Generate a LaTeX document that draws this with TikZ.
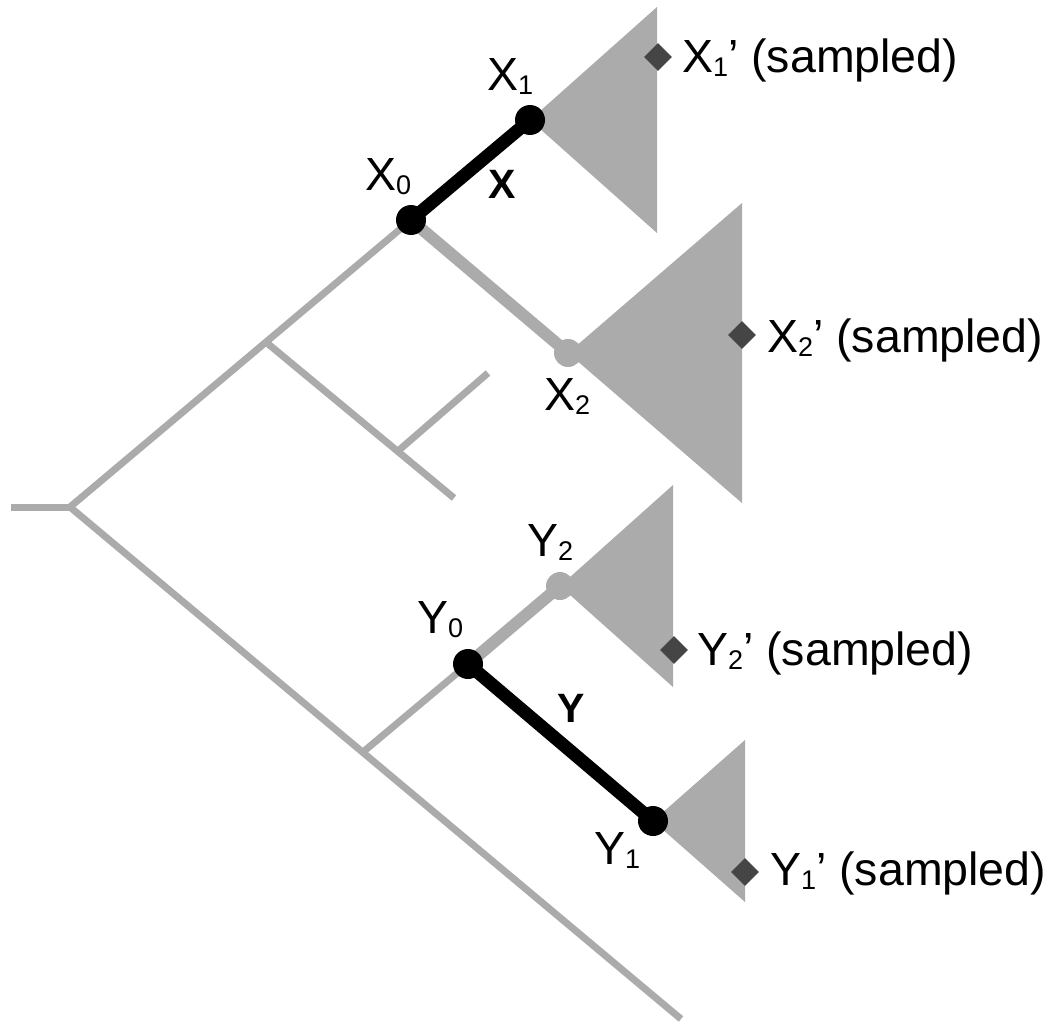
\documentclass[tikz,border=0pt]{standalone}
\usepackage{fontspec}
\setmainfont{Liberation Sans}
\usetikzlibrary{shapes.geometric}
\definecolor{tgray}{HTML}{ABABAB}
\definecolor{dgray}{HTML}{454545}
\newcommand\sbx[1]{\raisebox{-4.5pt}{\fontsize{27}{27}\selectfont #1}}
\begin{document}
\begin{tikzpicture}[x=1pt,y=-1pt,
  branch/.style={draw=tgray,line width=7pt},
  hot/.style={draw=tgray,line width=12pt},
  blk/.style={draw=black,line width=13pt},
  dotb/.style={circle,fill=black,minimum size=30pt,inner sep=0pt},
  dotg/.style={circle,fill=tgray,minimum size=28pt,inner sep=0pt},
  samp/.style={diamond,fill=dgray,minimum width=28pt,minimum height=28pt,inner sep=0pt},
  lbl/.style={anchor=base west,inner sep=0pt,font=\fontsize{46.5}{52}\selectfont},
  bl/.style={anchor=base west,inner sep=0pt,font=\bfseries\fontsize{41}{48}\selectfont},
  tri/.style={fill=tgray}]
\useasboundingbox (0,0) rectangle (1054,1025);
% positions
\coordinate (r0) at (11,507);
\coordinate (r) at (70,507);
\coordinate (a) at (267,343);
\coordinate (b) at (398,451);
\coordinate (bu) at (488,373);
\coordinate (bd) at (454,498);
\coordinate (c) at (363,752);
\coordinate (e) at (681,1019);
\coordinate (px0) at (411,220);
\coordinate (px1) at (530,120);
\coordinate (px2) at (568,353);
\coordinate (py0) at (468,664);
\coordinate (py1) at (653,821);
\coordinate (py2) at (560,586);
% tree
\draw[branch] (r0) -- (r);
\draw[branch] (px0) -- (r) -- (e);
\draw[branch] (a) -- (bd);
\draw[branch] (b) -- (bu);
\draw[branch] (c) -- (py0);
% clades
\fill[tri] (px1) -- (657,7) -- (657,233) -- cycle;
\fill[tri] (px2) -- (742,203) -- (742,503) -- cycle;
\fill[tri] (py2) -- (673,485) -- (673,687) -- cycle;
\fill[tri] (py1) -- (745,740) -- (745,902) -- cycle;
% highlighted branches
\draw[hot] (px0) -- (px2);
\draw[hot] (py0) -- (py2);
\draw[blk] (px0) -- (px1);
\draw[blk] (py0) -- (py1);
% dots
\node[dotb] (x0) at (px0) {};
\node[dotb] (x1) at (px1) {};
\node[dotg] (x2) at (px2) {};
\node[dotb] (y0) at (py0) {};
\node[dotb] (y1) at (py1) {};
\node[dotg] (y2) at (py2) {};
% sampled diamonds
\node[samp] (d1) at (658,57) {};
\node[samp] (d2) at (742,335) {};
\node[samp] (d3) at (674,650) {};
\node[samp] (d4) at (745,872) {};
% labels
\node[lbl] (lx1) at (487,90) {X\sbx{1}};
\node[lbl] (lx0) at (365,190) {X\sbx{0}};
\node[lbl] (lx2) at (544,410) {X\sbx{2}};
\node[lbl] (ly2) at (527,556) {Y\sbx{2}};
\node[lbl] (ly0) at (417,633) {Y\sbx{0}};
\node[lbl] (ly1) at (594,864) {Y\sbx{1}};
\node[bl] (bx) at (488,198) {X};
\node[bl] (by) at (557,722) {Y};
\node[lbl] (s1) at (682,72) {X\sbx{1}’ (sampled)};
\node[lbl] (s2) at (767,352) {X\sbx{2}’ (sampled)};
\node[lbl] (s3) at (697,665) {Y\sbx{2}’ (sampled)};
\node[lbl] (s4) at (770,885) {Y\sbx{1}’ (sampled)};
\end{tikzpicture}
\end{document}
